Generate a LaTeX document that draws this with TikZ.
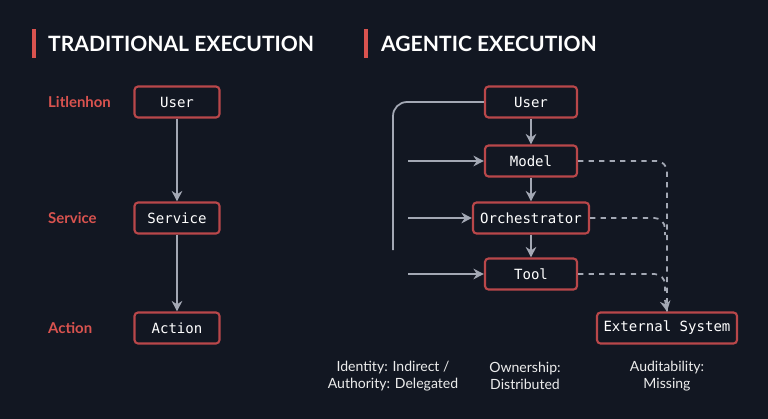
\documentclass[tikz,border=0pt]{standalone}
\usepackage{fontspec}
\setmainfont{Lato}
\newfontfamily\boxfont{DejaVu Sans Mono}
\usetikzlibrary{positioning,arrows.meta}
\definecolor{bgcol}{HTML}{121722}
\definecolor{accent}{HTML}{D9534F}
\definecolor{edge}{HTML}{B9474A}
\definecolor{linecol}{HTML}{A3A8B4}
\tikzset{>={Stealth[length=6pt,width=6pt]},
  blk/.style={draw=edge,line width=1.2pt,rounded corners=2pt,fill=bgcol,text=white,
    font=\boxfont\fontsize{8}{10}\selectfont,minimum height=31\pxu,inner xsep=2pt},
  lbl/.style={text=accent,font=\bfseries\fontsize{8.5}{10}\selectfont,anchor=west},
  ttl/.style={text=white,font=\bfseries\fontsize{12}{14}\selectfont,anchor=west},
  flow/.style={->,draw=linecol,line width=1pt},
  feed/.style={->,draw=linecol,line width=1pt},
  audit/.style={draw=linecol,line width=1pt,dashed,rounded corners=6pt},
  note/.style={text=white!85!gray,font=\fontsize{8}{9.5}\selectfont,align=center}}
\newlength{\pxu}\setlength{\pxu}{0.02cm}
\begin{document}
\begin{tikzpicture}[x=0.02cm,y=-0.02cm]
\fill[bgcol] (0,0) rectangle (768,419);
\useasboundingbox (0,0) rectangle (768,419);
% titles
\fill[accent] (32,29) rectangle (36,58);
\node[ttl] (ttrad) at (42,44) {TRADITIONAL EXECUTION};
\fill[accent] (364,29) rectangle (368,58);
\node[ttl] (tagent) at (375,44) {AGENTIC EXECUTION};
% traditional
\node[blk,minimum width=85\pxu] (tuser) at (177,102) {User};
\node[blk,minimum width=85\pxu] (tservice) at (177,218) {Service};
\node[blk,minimum width=85\pxu] (taction) at (177,328) {Action};
\node[lbl] (l1) at (42,102) {Litlenhon};
\node[lbl] (l2) at (42,218) {Service};
\node[lbl] (l3) at (42,328) {Action};
\draw[flow] (tuser) -- (tservice);
\draw[flow] (tservice) -- (taction);
% agentic
\node[blk,minimum width=92\pxu] (auser) at (531,102) {User};
\node[blk,minimum width=92\pxu] (amodel) at (531,161) {Model};
\node[blk,minimum width=116\pxu] (aorch) at (531,218) {Orchestrator};
\node[blk,minimum width=92\pxu] (atool) at (531,274) {Tool};
\node[blk,minimum width=140\pxu] (aext) at (667,328) {External System};
\draw[flow] (auser) -- (amodel);
\draw[flow] (amodel) -- (aorch);
\draw[flow] (aorch) -- (atool);
\coordinate (bend) at (393,250);
\draw[draw=linecol,line width=1pt,rounded corners=8pt] (auser.west) -| (bend);
\coordinate (s1) at (408,161);
\coordinate (s2) at (408,218);
\coordinate (s3) at (408,274);
\draw[feed] (s1) -- (amodel.west);
\draw[feed] (s2) -- (aorch.west);
\draw[feed] (s3) -- (atool.west);
\coordinate (j2) at (665,235);
\coordinate (j3) at (665,291);
\draw[audit] (amodel.east) -| (aext.north);
\draw[audit] (aorch.east) -| (j2);
\draw[audit] (atool.east) -| (j3);
\draw[->,draw=linecol,line width=1pt] (665,300) -- (aext.north);
% notes
\node[note] (n1) at (393,376) {Identity: Indirect /\\Authority: Delegated};
\node[note] (n2) at (525,376) {Ownership:\\Distributed};
\node[note] (n3) at (667,376) {Auditability:\\Missing};
\end{tikzpicture}
\end{document}
